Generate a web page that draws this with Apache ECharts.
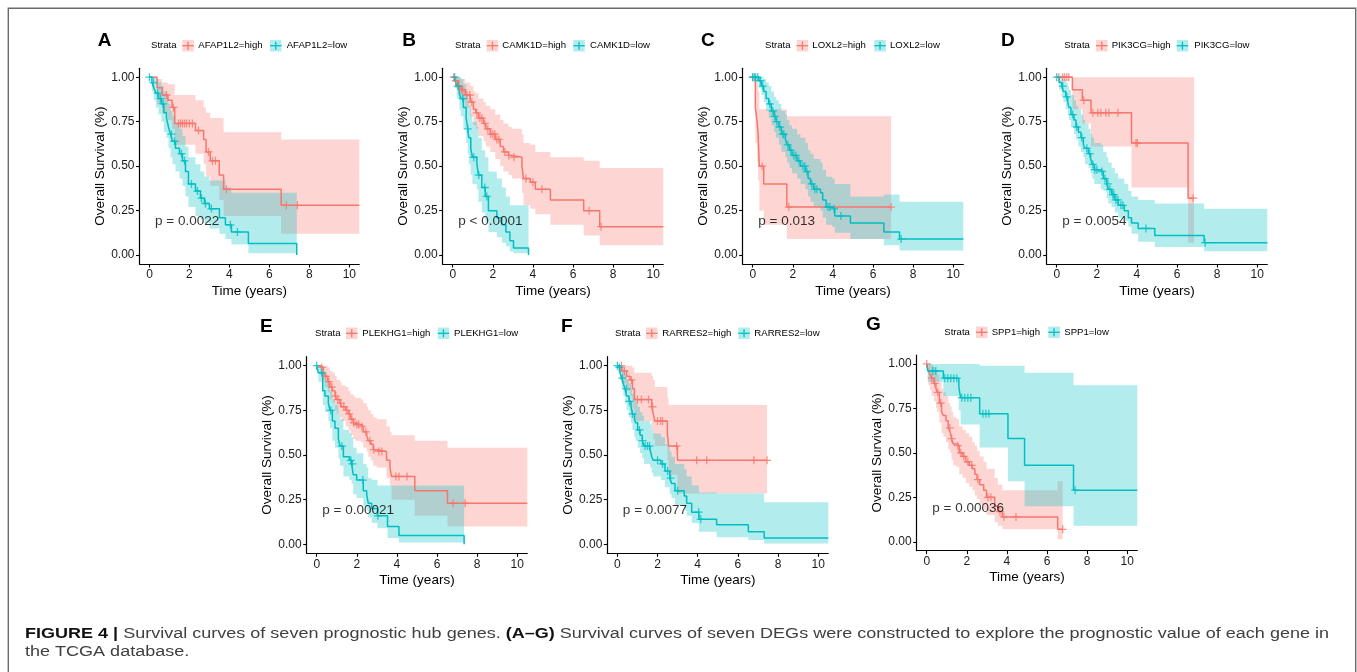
<!DOCTYPE html>
<html>
<head>
<meta charset="utf-8">
<script src="https://cdn.jsdelivr.net/npm/echarts@6/dist/echarts.min.js"></script>
<style>
  html, body { margin: 0; padding: 0; background: #ffffff; }
  #chart { width: 1357px; height: 672px; }
</style>
</head>
<body>
<div id="chart"></div>
<script>
// ---- labels ----
const panelLetters = ['A', 'B', 'C', 'D', 'E', 'F', 'G'];
const genes = ['AFAP1L2', 'CAMK1D', 'LOXL2', 'PIK3CG', 'PLEKHG1', 'RARRES2', 'SPP1'];
const pValues = ['p = 0.0022', 'p < 0.0001', 'p = 0.013', 'p = 0.0054', 'p = 0.00021', 'p = 0.0077', 'p = 0.00036'];
const xTicks = [0, 2, 4, 6, 8, 10];
const yTicks = [0, 0.25, 0.5, 0.75, 1];

// ---- Kaplan-Meier steps: [time, survival, lower 95% CI, upper 95% CI] ----
const afap1l2High = [
  [0, 1.00, 1.00, 1.00], [0.38, 0.94, 0.85, 0.99], [0.63, 0.90, 0.80, 0.97], [0.92, 0.87, 0.76, 0.96],
  [1.13, 0.83, 0.71, 0.96], [1.26, 0.74, 0.62, 0.90], [2.30, 0.70, 0.57, 0.87], [2.71, 0.65, 0.51, 0.83],
  [2.83, 0.58, 0.44, 0.80], [3.04, 0.53, 0.39, 0.77], [3.49, 0.45, 0.31, 0.77], [3.71, 0.37, 0.22, 0.69],
  [6.59, 0.28, 0.12, 0.65]
];
const afap1l2Low = [
  [0, 1.00, 1.00, 1.00], [0.12, 0.97, 0.92, 1.00], [0.22, 0.94, 0.87, 1.00], [0.32, 0.91, 0.83, 0.99],
  [0.45, 0.88, 0.79, 0.97], [0.60, 0.85, 0.75, 0.95], [0.72, 0.80, 0.69, 0.92], [0.85, 0.77, 0.66, 0.89],
  [0.95, 0.72, 0.60, 0.85], [1.05, 0.68, 0.55, 0.81], [1.15, 0.64, 0.51, 0.78], [1.30, 0.60, 0.47, 0.74],
  [1.50, 0.57, 0.43, 0.71], [1.65, 0.53, 0.39, 0.67], [1.80, 0.47, 0.33, 0.61], [1.95, 0.40, 0.27, 0.55],
  [2.30, 0.36, 0.22, 0.51], [2.55, 0.32, 0.20, 0.47], [2.75, 0.29, 0.18, 0.44], [3.00, 0.26, 0.15, 0.42],
  [3.50, 0.21, 0.12, 0.42], [3.80, 0.17, 0.09, 0.38], [4.10, 0.13, 0.06, 0.35], [4.95, 0.065, 0.01, 0.35],
  [7.37, 0, 0, 0]
];
const camk1dHigh = [
  [0, 1.00, 1.00, 1.00], [0.12, 0.98, 0.94, 1.00], [0.28, 0.95, 0.90, 1.00], [0.42, 0.93, 0.87, 0.99],
  [0.62, 0.90, 0.83, 0.97], [0.87, 0.86, 0.78, 0.95], [1.03, 0.82, 0.73, 0.92], [1.15, 0.80, 0.71, 0.91],
  [1.28, 0.77, 0.67, 0.88], [1.53, 0.74, 0.64, 0.86], [1.65, 0.71, 0.61, 0.84], [1.87, 0.68, 0.58, 0.82],
  [2.12, 0.65, 0.54, 0.79], [2.37, 0.61, 0.50, 0.76], [2.53, 0.58, 0.47, 0.74], [2.78, 0.56, 0.45, 0.72],
  [2.95, 0.55, 0.43, 0.71], [3.45, 0.50, 0.35, 0.68], [3.53, 0.43, 0.28, 0.63], [3.87, 0.41, 0.26, 0.62],
  [4.12, 0.37, 0.23, 0.58], [4.87, 0.31, 0.17, 0.55], [6.53, 0.25, 0.11, 0.53], [7.33, 0.16, 0.055, 0.49]
];
const camk1dLow = [
  [0, 1.00, 1.00, 1.00], [0.12, 0.98, 0.94, 1.00], [0.20, 0.95, 0.88, 1.00], [0.33, 0.91, 0.82, 1.00],
  [0.40, 0.88, 0.78, 0.99], [0.53, 0.83, 0.71, 0.96], [0.67, 0.77, 0.63, 0.92], [0.75, 0.71, 0.57, 0.88],
  [0.80, 0.66, 0.51, 0.84], [0.90, 0.60, 0.45, 0.79], [0.98, 0.55, 0.40, 0.75], [1.20, 0.52, 0.37, 0.72],
  [1.28, 0.45, 0.30, 0.66], [1.45, 0.38, 0.24, 0.59], [1.62, 0.33, 0.19, 0.55], [1.78, 0.25, 0.13, 0.47],
  [2.20, 0.21, 0.10, 0.43], [2.45, 0.17, 0.07, 0.38], [2.65, 0.13, 0.05, 0.33], [2.85, 0.08, 0.02, 0.28],
  [3.03, 0.04, 0.01, 0.28], [3.78, 0, 0, 0]
];
const loxl2High = [
  [0, 1.00, 1.00, 1.00], [0.13, 0.83, 0.63, 1.00], [0.22, 0.75, 0.52, 0.97], [0.27, 0.67, 0.42, 0.92],
  [0.33, 0.50, 0.25, 0.82], [0.55, 0.40, 0.17, 0.82], [1.70, 0.27, 0.09, 0.78]
];
const loxl2Low = [
  [0, 1.00, 1.00, 1.00], [0.30, 0.98, 0.94, 1.00], [0.43, 0.95, 0.90, 1.00], [0.55, 0.92, 0.86, 0.99],
  [0.67, 0.88, 0.81, 0.97], [0.80, 0.85, 0.77, 0.95], [0.93, 0.81, 0.73, 0.92], [1.06, 0.78, 0.69, 0.89],
  [1.16, 0.75, 0.66, 0.87], [1.30, 0.72, 0.62, 0.85], [1.43, 0.68, 0.58, 0.81], [1.63, 0.65, 0.55, 0.79],
  [1.71, 0.62, 0.52, 0.76], [1.83, 0.59, 0.49, 0.73], [1.96, 0.56, 0.46, 0.71], [2.21, 0.53, 0.43, 0.68],
  [2.38, 0.50, 0.40, 0.66], [2.63, 0.47, 0.37, 0.63], [2.76, 0.43, 0.33, 0.59], [2.88, 0.40, 0.30, 0.57],
  [3.04, 0.37, 0.27, 0.54], [3.38, 0.35, 0.25, 0.52], [3.49, 0.31, 0.21, 0.48], [3.66, 0.27, 0.17, 0.44],
  [3.96, 0.26, 0.16, 0.43], [4.09, 0.22, 0.125, 0.40], [4.87, 0.18, 0.09, 0.33], [6.54, 0.13, 0.055, 0.34],
  [7.32, 0.09, 0.026, 0.30]
];
const pik3cgHigh = [
  [0, 1.00, 1.00, 1.00], [0.78, 0.93, 0.82, 1.00], [1.28, 0.87, 0.74, 1.00], [1.71, 0.80, 0.61, 1.00],
  [3.73, 0.63, 0.38, 1.00], [6.55, 0.32, 0.07, 1.00]
];
const pik3cgLow = [
  [0, 1.00, 1.00, 1.00], [0.12, 0.97, 0.93, 1.00], [0.25, 0.95, 0.89, 1.00], [0.33, 0.92, 0.86, 0.99],
  [0.45, 0.89, 0.82, 0.97], [0.55, 0.86, 0.79, 0.95], [0.61, 0.83, 0.76, 0.93], [0.71, 0.79, 0.72, 0.90],
  [0.86, 0.76, 0.68, 0.87], [0.96, 0.72, 0.65, 0.84], [1.08, 0.69, 0.61, 0.82], [1.21, 0.66, 0.58, 0.79],
  [1.33, 0.62, 0.55, 0.76], [1.41, 0.60, 0.51, 0.74], [1.58, 0.57, 0.49, 0.71], [1.69, 0.54, 0.46, 0.68],
  [1.77, 0.51, 0.43, 0.66], [1.87, 0.48, 0.40, 0.63], [2.20, 0.47, 0.37, 0.62], [2.32, 0.43, 0.36, 0.58],
  [2.49, 0.40, 0.32, 0.55], [2.57, 0.37, 0.29, 0.52], [2.74, 0.34, 0.27, 0.49], [2.90, 0.31, 0.24, 0.46],
  [3.07, 0.28, 0.21, 0.43], [3.37, 0.25, 0.19, 0.40], [3.57, 0.21, 0.16, 0.36], [3.73, 0.18, 0.12, 0.33],
  [4.06, 0.15, 0.075, 0.31], [4.89, 0.11, 0.045, 0.29], [7.35, 0.07, 0.022, 0.26]
];
const plekhg1High = [
  [0, 1.00, 1.00, 1.00], [0.17, 0.99, 0.95, 1.00], [0.33, 0.97, 0.92, 1.00], [0.41, 0.94, 0.88, 1.00],
  [0.55, 0.91, 0.85, 0.99], [0.66, 0.88, 0.81, 0.97], [0.78, 0.86, 0.79, 0.96], [0.91, 0.83, 0.75, 0.94],
  [1.00, 0.81, 0.73, 0.92], [1.16, 0.79, 0.71, 0.91], [1.24, 0.77, 0.69, 0.89], [1.44, 0.75, 0.66, 0.88],
  [1.58, 0.73, 0.64, 0.86], [1.69, 0.70, 0.61, 0.84], [1.82, 0.68, 0.59, 0.83], [1.91, 0.67, 0.58, 0.82],
  [2.20, 0.66, 0.57, 0.81], [2.32, 0.63, 0.54, 0.79], [2.49, 0.61, 0.52, 0.77], [2.57, 0.58, 0.49, 0.75],
  [2.70, 0.56, 0.47, 0.73], [2.82, 0.53, 0.44, 0.71], [2.99, 0.52, 0.43, 0.70], [3.48, 0.47, 0.37, 0.66],
  [3.65, 0.43, 0.33, 0.63], [3.73, 0.38, 0.25, 0.61], [4.89, 0.30, 0.16, 0.58], [6.52, 0.23, 0.10, 0.54]
];
const plekhg1Low = [
  [0, 1.00, 1.00, 1.00], [0.08, 0.96, 0.91, 1.00], [0.30, 0.86, 0.78, 0.94], [0.41, 0.83, 0.74, 0.92],
  [0.58, 0.79, 0.69, 0.89], [0.66, 0.75, 0.65, 0.86], [0.78, 0.69, 0.58, 0.81], [0.91, 0.65, 0.54, 0.78],
  [1.08, 0.59, 0.48, 0.73], [1.16, 0.55, 0.44, 0.70], [1.33, 0.49, 0.38, 0.64], [1.63, 0.47, 0.36, 0.62],
  [1.74, 0.45, 0.34, 0.60], [1.82, 0.39, 0.28, 0.54], [1.99, 0.36, 0.26, 0.51], [2.32, 0.30, 0.21, 0.45],
  [2.49, 0.28, 0.19, 0.43], [2.57, 0.23, 0.15, 0.37], [2.74, 0.20, 0.12, 0.36], [3.03, 0.16, 0.09, 0.33],
  [3.53, 0.10, 0.035, 0.33], [4.10, 0.05, 0.01, 0.33], [7.35, 0, 0, 0]
];
const rarres2High = [
  [0, 1.00, 1.00, 1.00], [0.22, 0.97, 0.90, 1.00], [0.46, 0.94, 0.86, 1.00], [0.63, 0.92, 0.83, 1.00],
  [0.75, 0.87, 0.76, 0.99], [0.85, 0.81, 0.69, 0.96], [1.71, 0.77, 0.64, 0.94], [1.79, 0.73, 0.59, 0.92],
  [1.87, 0.69, 0.55, 0.88], [2.49, 0.62, 0.47, 0.82], [2.55, 0.55, 0.39, 0.78], [2.99, 0.47, 0.285, 0.78]
];
const rarres2Low = [
  [0, 1.00, 1.00, 1.00], [0.05, 0.99, 0.96, 1.00], [0.13, 0.96, 0.92, 1.00], [0.22, 0.93, 0.87, 0.99],
  [0.30, 0.90, 0.83, 0.97], [0.38, 0.87, 0.79, 0.95], [0.46, 0.83, 0.75, 0.92], [0.58, 0.80, 0.71, 0.90],
  [0.68, 0.77, 0.68, 0.87], [0.75, 0.73, 0.64, 0.84], [0.85, 0.70, 0.60, 0.82], [0.91, 0.68, 0.58, 0.80],
  [1.01, 0.64, 0.54, 0.77], [1.13, 0.61, 0.51, 0.74], [1.24, 0.58, 0.48, 0.72], [1.33, 0.55, 0.45, 0.69],
  [1.63, 0.53, 0.43, 0.67], [1.71, 0.49, 0.40, 0.64], [1.79, 0.47, 0.38, 0.62], [2.17, 0.45, 0.36, 0.60],
  [2.37, 0.41, 0.32, 0.56], [2.61, 0.37, 0.28, 0.52], [2.70, 0.34, 0.26, 0.49], [2.87, 0.30, 0.22, 0.45],
  [3.33, 0.27, 0.19, 0.42], [3.45, 0.23, 0.16, 0.38], [3.70, 0.18, 0.12, 0.33], [4.06, 0.14, 0.07, 0.29],
  [4.94, 0.11, 0.04, 0.285], [6.52, 0.07, 0.025, 0.285], [7.31, 0.035, 0.005, 0.235]
];
const spp1High = [
  [0, 1.00, 1.00, 1.00], [0.08, 0.96, 0.88, 1.00], [0.17, 0.94, 0.85, 1.00], [0.25, 0.92, 0.82, 0.99],
  [0.36, 0.89, 0.79, 0.98], [0.46, 0.86, 0.75, 0.96], [0.53, 0.84, 0.73, 0.94], [0.63, 0.78, 0.67, 0.90],
  [0.74, 0.73, 0.61, 0.86], [0.83, 0.71, 0.59, 0.84], [0.96, 0.68, 0.56, 0.82], [1.07, 0.64, 0.52, 0.78],
  [1.16, 0.62, 0.50, 0.76], [1.24, 0.58, 0.46, 0.73], [1.32, 0.55, 0.43, 0.70], [1.49, 0.54, 0.42, 0.69],
  [1.62, 0.50, 0.38, 0.65], [1.79, 0.48, 0.36, 0.63], [1.95, 0.45, 0.33, 0.61], [2.12, 0.43, 0.31, 0.59],
  [2.28, 0.41, 0.29, 0.56], [2.40, 0.38, 0.26, 0.54], [2.51, 0.35, 0.24, 0.51], [2.64, 0.32, 0.21, 0.48],
  [2.84, 0.29, 0.18, 0.45], [2.98, 0.25, 0.15, 0.41], [3.39, 0.20, 0.11, 0.36], [3.55, 0.17, 0.09, 0.32],
  [3.77, 0.14, 0.07, 0.29], [6.53, 0.07, 0.015, 0.34]
];
const spp1Low = [
  [0, 1.00, 1.00, 1.00], [0.05, 0.96, 0.90, 1.00], [0.83, 0.92, 0.82, 1.00], [1.60, 0.87, 0.74, 1.00],
  [1.69, 0.81, 0.66, 1.00], [2.64, 0.72, 0.53, 0.99], [4.05, 0.58, 0.34, 0.99], [4.88, 0.43, 0.20, 0.95],
  [7.32, 0.29, 0.09, 0.88]
];

// ---- censoring times (years) ----
const afap1l2HighCens = [0.85, 1.2, 1.45, 1.55, 1.65, 1.75, 1.85, 2.0, 2.15, 2.45, 2.95, 3.15, 3.3, 3.85, 6.85, 7.4];
const afap1l2LowCens = [0, 0.2, 0.4, 0.55, 0.68, 1.1, 1.25, 1.6, 1.75, 2.1, 2.4, 2.6, 2.8, 3.1, 4.05, 4.4];
const camk1dHighCens = [0.05, 0.15, 0.3, 0.45, 0.5, 0.7, 0.85, 0.95, 1.2, 1.35, 1.45, 1.6, 1.75, 1.9, 2.0, 2.1, 2.2, 2.3, 2.6, 2.8, 3.05, 3.65, 4.0, 4.45, 6.8, 7.4];
const camk1dLowCens = [0.1, 0.25, 0.5, 0.75, 1.05, 1.3, 1.6, 1.7];
const loxl2HighCens = [0, 0.47, 1.8, 6.9];
const loxl2LowCens = [0, 0.08, 0.15, 0.25, 0.38, 0.5, 0.85, 1.0, 1.1, 1.2, 1.35, 1.5, 1.55, 1.75, 1.9, 2.05, 2.15, 2.3, 2.5, 2.6, 2.7, 2.95, 3.1, 3.2, 3.75, 3.85, 4.05, 4.4, 7.4];
const pik3cgHighCens = [0.1, 0.3, 0.4, 0.5, 0.6, 1.35, 1.8, 2.05, 2.2, 2.45, 2.6, 3.05, 3.95, 4.02, 6.8];
const pik3cgLowCens = [0, 0.3, 0.5, 0.8, 1.0, 1.25, 1.5, 1.65, 1.8, 1.9, 2.0, 2.25, 2.4, 2.55, 2.65, 2.8, 2.85, 2.95, 3.05, 3.2, 3.3, 4.45, 7.4];
const plekhg1HighCens = [0.25, 0.45, 0.6, 0.75, 0.95, 1.05, 1.2, 1.35, 1.5, 1.62, 1.75, 1.85, 2.0, 2.1, 2.25, 2.45, 2.65, 2.85, 3.1, 3.25, 3.95, 4.1, 4.5, 6.8, 7.4];
const plekhg1LowCens = [0, 0.25, 0.7, 1.25, 1.7, 1.78, 2.3, 3.05];
const rarres2HighCens = [0.2, 0.35, 0.7, 1.0, 1.2, 1.55, 1.75, 2.0, 2.15, 2.25, 2.95, 3.95, 4.45, 6.8, 7.45];
const rarres2LowCens = [0, 0.1, 0.25, 0.45, 0.6, 0.75, 1.1, 1.25, 1.38, 1.5, 1.6, 2.0, 2.25, 2.5, 2.65, 3.0, 4.05, 4.15];
const spp1HighCens = [0, 0.25, 0.4, 0.55, 0.7, 1.15, 1.25, 1.55, 1.7, 1.85, 2.05, 2.25, 2.55, 3.05, 3.2, 3.65, 3.85, 4.45, 6.78];
const spp1LowCens = [0.3, 0.45, 0.9, 1.05, 1.2, 1.35, 1.5, 1.75, 1.9, 2.05, 2.2, 2.8, 2.95, 3.1, 7.4];

// last follow-up time of each stratum [high, low]
const followUpEnd = [[10.5, 7.37], [10.5, 3.78], [6.9, 10.5], [6.85, 10.5], [10.5, 7.35], [7.45, 10.5], [6.78, 10.5]];

// ---- layout ----
const FONT = '"Liberation Sans", Arial, Helvetica, sans-serif';
const HIGH = '#F8766D', LOW = '#00BFC4';
const HIGH_FILL = 'rgba(248,118,109,0.3)', LOW_FILL = 'rgba(0,191,196,0.3)';
const panels = [
  { high: afap1l2High, low: afap1l2Low, highCens: afap1l2HighCens, lowCens: afap1l2LowCens },
  { high: camk1dHigh, low: camk1dLow, highCens: camk1dHighCens, lowCens: camk1dLowCens },
  { high: loxl2High, low: loxl2Low, highCens: loxl2HighCens, lowCens: loxl2LowCens },
  { high: pik3cgHigh, low: pik3cgLow, highCens: pik3cgHighCens, lowCens: pik3cgLowCens },
  { high: plekhg1High, low: plekhg1Low, highCens: plekhg1HighCens, lowCens: plekhg1LowCens },
  { high: rarres2High, low: rarres2Low, highCens: rarres2HighCens, lowCens: rarres2LowCens },
  { high: spp1High, low: spp1Low, highCens: spp1HighCens, lowCens: spp1LowCens }
];
// grid boxes: left, top, width, height
const gridBoxes = [
  [139.5, 68.3, 219.8, 195.7], [442.7, 68.3, 220.6, 195.7], [742.7, 68.3, 220.6, 195.7], [1046.7, 68.3, 220.6, 195.7],
  [306.7, 356.7, 220.6, 196.6], [607.3, 356.7, 221.0, 196.6], [916.7, 355.0, 220.6, 195.7]
];
// legend x positions: "Strata", key 1, label 1, key 2, label 2
const legendX = [
  [151, 182.3, 198.3, 270, 286.7], [455, 486.7, 502.3, 573.3, 590], [765, 796.7, 812.3, 874.3, 890],
  [1064.3, 1096, 1111.7, 1176.7, 1194.3], [315, 346, 362.3, 437.7, 454], [615, 646, 662.3, 738.3, 754.3],
  [944.3, 976, 991.7, 1048.3, 1064.3]
];
const legendY = [45.7, 45.7, 45.7, 45.7, 333.3, 333.3, 332.3];
const letterPos = [[97.7, 40.7], [402.3, 40.7], [701, 40.7], [1001, 40.7], [260, 326.7], [561, 326.7], [866, 325]];
const pLabelAnchor = [0.25, 0.19];

const PLUS = 'path://M4.2,0h1.6v4.2h4.2v1.6h-4.2v4.2h-1.6v-4.2h-4.2v-1.6h4.2z';

function survAt(rows, t) {
  let v = rows[0][1];
  for (const r of rows) { if (r[0] <= t) v = r[1]; else break; }
  return v;
}

function bandSeries(rows, endT, gi, fill) {
  return {
    type: 'custom', xAxisIndex: gi, yAxisIndex: gi, z: 1, silent: true, clip: true,
    data: [[0, 0]],
    renderItem: function (params, api) {
      const up = [], dn = [];
      for (let i = 0; i < rows.length; i++) {
        const t0 = rows[i][0];
        const t1 = i + 1 < rows.length ? rows[i + 1][0] : endT;
        up.push(api.coord([t0, rows[i][3]]), api.coord([t1, rows[i][3]]));
        dn.push(api.coord([t0, rows[i][2]]), api.coord([t1, rows[i][2]]));
      }
      return { type: 'polygon', shape: { points: up.concat(dn.reverse()) }, style: { fill: fill } };
    }
  };
}

function curveSeries(rows, endT, gi, color) {
  const pts = rows.map(r => [r[0], r[1]]);
  pts.push([endT, rows[rows.length - 1][1]]);
  return {
    type: 'line', xAxisIndex: gi, yAxisIndex: gi, step: 'end', z: 3, silent: true,
    data: pts, symbol: 'none', lineStyle: { color: color, width: 1.5 }
  };
}

function censorSeries(rows, cens, gi, color) {
  return {
    type: 'scatter', xAxisIndex: gi, yAxisIndex: gi, z: 4, silent: true,
    data: cens.map(t => [t, survAt(rows, t)]),
    symbol: PLUS, symbolSize: 8, itemStyle: { color: color }
  };
}

const grids = [], xAxes = [], yAxes = [], series = [], graphics = [];

panels.forEach((p, i) => {
  const b = gridBoxes[i];
  grids.push({ left: b[0], top: b[1], width: b[2], height: b[3], containLabel: false });
  xAxes.push({
    gridIndex: i, type: 'value', min: -0.5, max: 10.5,
    axisLine: { show: true, onZero: false, lineStyle: { color: '#000', width: 1.2 } },
    axisTick: { show: true, length: 3.5, customValues: xTicks, lineStyle: { color: '#000', width: 1.1 } },
    axisLabel: { customValues: xTicks, fontSize: 12, fontFamily: FONT, color: '#1a1a1a', margin: 5 },
    splitLine: { show: false },
    name: 'Time (years)', nameLocation: 'middle', nameGap: 20,
    nameTextStyle: { fontSize: 13.5, fontFamily: FONT, color: '#000' }
  });
  yAxes.push({
    gridIndex: i, type: 'value', min: -0.05, max: 1.05,
    axisLine: { show: true, onZero: false, lineStyle: { color: '#000', width: 1.2 } },
    axisTick: { show: true, length: 3.5, customValues: yTicks, lineStyle: { color: '#000', width: 1.1 } },
    axisLabel: { customValues: yTicks, fontSize: 12, fontFamily: FONT, color: '#1a1a1a', margin: 5,
      formatter: v => v.toFixed(2) },
    splitLine: { show: false },
    name: 'Overall Survival (%)', nameLocation: 'middle', nameGap: 26,
    nameTextStyle: { fontSize: 13.5, fontFamily: FONT, color: '#000' }
  });

  const ends = followUpEnd[i];
  series.push(bandSeries(p.high, ends[0], i, HIGH_FILL));
  series.push(bandSeries(p.low, ends[1], i, LOW_FILL));
  series.push(curveSeries(p.high, ends[0], i, HIGH));
  series.push(curveSeries(p.low, ends[1], i, LOW));
  series.push(censorSeries(p.high, p.highCens, i, HIGH));
  series.push(censorSeries(p.low, p.lowCens, i, LOW));
  series.push({
    type: 'scatter', xAxisIndex: i, yAxisIndex: i, z: 5, silent: true,
    data: [pLabelAnchor], symbolSize: 1, itemStyle: { color: 'rgba(0,0,0,0)' },
    label: { show: true, position: 'right', distance: 0, formatter: pValues[i],
      fontSize: 13.5, fontFamily: FONT, color: '#000' }
  });

  // panel letter
  graphics.push({
    type: 'text', x: letterPos[i][0], y: letterPos[i][1],
    style: { text: panelLetters[i], fontSize: 19, fontWeight: 'bold', fontFamily: FONT, fill: '#000',
      verticalAlign: 'middle', align: 'left' }
  });

  // legend
  const lx = legendX[i], ly = legendY[i];
  const legendText = (x, txt) => ({
    type: 'text', x: x, y: ly,
    style: { text: txt, fontSize: 9.6, fontFamily: FONT, fill: '#000', verticalAlign: 'middle', align: 'left' }
  });
  const legendKey = (x, fill, color) => ([
    { type: 'rect', shape: { x: x, y: ly - 5.8, width: 11.5, height: 11.6 }, style: { fill: fill } },
    { type: 'line', shape: { x1: x, y1: ly, x2: x + 11.5, y2: ly }, style: { stroke: color, lineWidth: 1.3 } },
    { type: 'line', shape: { x1: x + 5.75, y1: ly - 4, x2: x + 5.75, y2: ly + 4 }, style: { stroke: color, lineWidth: 1.3 } }
  ]);
  graphics.push(legendText(lx[0], 'Strata'));
  legendKey(lx[1], HIGH_FILL, HIGH).forEach(g => graphics.push(g));
  graphics.push(legendText(lx[2], genes[i] + '=high'));
  legendKey(lx[3], LOW_FILL, LOW).forEach(g => graphics.push(g));
  graphics.push(legendText(lx[4], genes[i] + '=low'));
});

// figure frame
graphics.push({
  type: 'rect', shape: { x: 8.3, y: 8.3, width: 1347.4, height: 720 },
  style: { fill: 'none', stroke: '#6a6a6a', lineWidth: 1.4 }, z: 0
});

// caption
const capBold = 'FIGURE 4 |';
const capRest1 = ' Survival curves of seven prognostic hub genes. ';
const capBold2 = '(A\u2013G)';
const capRest2 = ' Survival curves of seven DEGs were constructed to explore the prognostic value of each gene in';
const capLine2 = 'the TCGA database.';
const CAP_SIZE = 15.5;
const ctx = document.createElement('canvas').getContext('2d');
ctx.font = 'bold ' + CAP_SIZE + 'px ' + FONT;
let capW = ctx.measureText(capBold).width + ctx.measureText(capBold2).width;
ctx.font = CAP_SIZE + 'px ' + FONT;
capW += ctx.measureText(capRest1).width + ctx.measureText(capRest2).width;
const capScale = 1304 / capW;

graphics.push({
  type: 'text', x: 25, y: 633.5, scaleX: capScale, originX: 0,
  style: {
    text: '{b|' + capBold + '}' + capRest1 + '{b|' + capBold2 + '}' + capRest2,
    fontSize: CAP_SIZE, fontFamily: FONT, fill: '#404040', verticalAlign: 'middle', align: 'left',
    rich: { b: { fontSize: CAP_SIZE, fontFamily: FONT, fontWeight: 'bold', fill: '#111' } }
  }
});
graphics.push({
  type: 'text', x: 25, y: 652, scaleX: capScale, originX: 0,
  style: { text: capLine2, fontSize: CAP_SIZE, fontFamily: FONT, fill: '#404040', verticalAlign: 'middle', align: 'left' }
});

const chart = echarts.init(document.getElementById('chart'), null, { renderer: 'canvas' });
chart.setOption({
  animation: false,
  backgroundColor: '#ffffff',
  grid: grids,
  xAxis: xAxes,
  yAxis: yAxes,
  series: series,
  graphic: graphics
});
</script>
</body>
</html>
